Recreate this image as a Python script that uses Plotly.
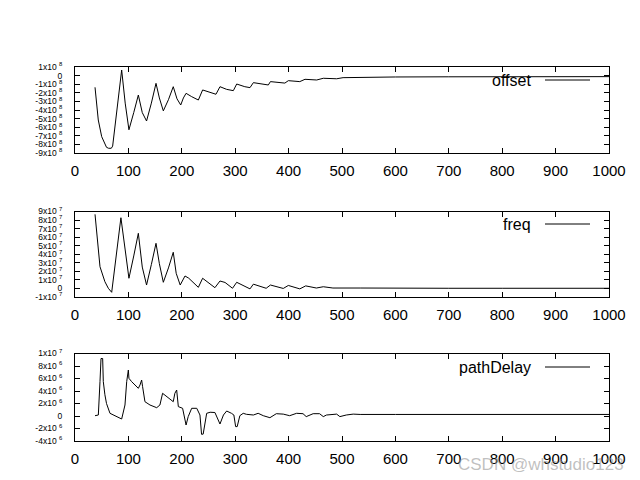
import plotly.graph_objects as go

# ---- data ----
offset_x = [37.5, 43.6, 50, 55, 59, 63, 68, 70.5, 78, 87.4, 94, 101, 110, 118.6, 126, 134, 143, 151.7, 158, 165.4, 175, 184, 191, 198, 203, 208, 218.5, 231, 239, 249.7, 264, 271.5, 284, 296.5, 302.8, 318, 327.7, 334, 352.6, 362, 366, 384, 393, 399.5, 421, 430.7, 452.6, 465, 490, 502, 534, 600, 700, 800, 900, 1000]
offset_y = [-1.36e8, -5.16e8, -7.1e8, -7.9e8, -8.34e8, -8.45e8, -8.45e8, -8.2e8, -4.0e8, 0.65e8, -3.2e8, -6.3e8, -4.3e8, -2.26e8, -4.3e8, -5.28e8, -3.2e8, -0.9e8, -2.6e8, -4.1e8, -2.8e8, -1.29e8, -2.7e8, -3.42e8, -2.6e8, -2.06e8, -2.45e8, -2.84e8, -1.67e8, -1.87e8, -2.17e8, -1.29e8, -1.6e8, -1.75e8, -0.98e8, -1.29e8, -1.4e8, -0.82e8, -1.0e8, -1.09e8, -0.7e8, -0.82e8, -0.87e8, -0.59e8, -0.7e8, -0.43e8, -0.51e8, -0.31e8, -0.37e8, -0.24e8, -0.2e8, -1.6e7, -1.4e7, -1.3e7, -1.2e7, -1.2e7]

freq_x = [37.5, 46.8, 56, 62.4, 68.7, 77, 86, 94, 101, 110, 118.6, 126, 134, 143, 151.7, 158, 165.4, 175, 184, 189.5, 197, 206, 213, 231, 239, 262, 271.5, 281, 295, 302.8, 327.7, 334, 358, 366, 390, 399.5, 421, 432, 452, 465, 483, 534, 600, 700, 800, 900, 1000]
freq_y = [8.67e7, 2.54e7, 0.79e7, 0.02e7, -0.45e7, 3.5e7, 8.27e7, 4.5e7, 1.19e7, 3.8e7, 6.45e7, 2.5e7, 0.4e7, 2.8e7, 5.28e7, 2.9e7, 0.72e7, 2.4e7, 4.23e7, 1.77e7, 0.4e7, 1.46e7, 1.2e7, 0.13e7, 1.19e7, 0.09e7, 0.87e7, 0.7e7, 0.02e7, 0.72e7, -0.05e7, 0.5e7, 0.02e7, 0.4e7, 0.0, 0.35e7, -0.05e7, 0.3e7, 0.05e7, 0.2e7, 0.05e7, 0.05e7, 0.02e7, 0.02e7, 0.02e7, 0.02e7, 0.02e7]

delay_x = [37.5, 43.7, 46.8, 48.7, 51.8, 53, 56, 59, 65.5, 75, 87.4, 93.6, 96.8, 99.9, 101, 106, 118.6, 121.7, 124.8, 126.6, 131, 140.4, 153, 159, 164, 184, 187, 190.4, 193.5, 201.5, 208, 212, 218.5, 228, 234, 237, 240, 246.6, 253, 262, 265, 271.5, 278, 284, 293, 297.5, 300.8, 303.7, 308.7, 315, 321, 334, 343, 352.6, 365, 377, 390, 402, 415, 427, 433, 446, 458, 465, 471, 490, 496, 508, 521, 534, 600, 700, 800, 900, 1000]
delay_y = [0.05e6, 0.16e6, 5.5e6, 9.2e6, 9.2e6, 5.5e6, 3.4e6, 2.0e6, 0.43e6, 0.05e6, -0.48e6, 1.76e6, 5.5e6, 7.36e6, 6.03e6, 5.5e6, 4.43e6, 4.96e6, 5.76e6, 4.69e6, 2.29e6, 1.76e6, 1.33e6, 1.76e6, 3.63e6, 2.29e6, 3.63e6, 4.16e6, 1.5e6, 1.23e6, -1.44e6, -0.1e6, 1.23e6, 1.23e6, 0.16e6, -2.93e6, -2.9e6, 0.43e6, 0.6e6, 0.56e6, -0.1e6, -1.28e6, 0.16e6, 0.8e6, 0.43e6, 0.16e6, -1.7e6, -1.7e6, 0.05e6, 0.43e6, 0.27e6, 0.16e6, 0.43e6, 0.05e6, -0.27e6, 0.37e6, 0.3e6, 0.05e6, 0.43e6, 0.37e6, -0.1e6, 0.37e6, 0.37e6, -0.1e6, 0.16e6, 0.3e6, -0.1e6, 0.16e6, 0.3e6, 0.25e6, 0.25e6, 0.25e6, 0.25e6, 0.25e6, 0.25e6]

x_ticks = [0, 100, 200, 300, 400, 500, 600, 700, 800, 900, 1000]
offset_ticks = [1e8, 0, -1e8, -2e8, -3e8, -4e8, -5e8, -6e8, -7e8, -8e8, -9e8]
offset_labels = ["1x10 <sup>8</sup>", "0", "-1x10 <sup>8</sup>", "-2x10 <sup>8</sup>", "-3x10 <sup>8</sup>", "-4x10 <sup>8</sup>", "-5x10 <sup>8</sup>", "-6x10 <sup>8</sup>", "-7x10 <sup>8</sup>", "-8x10 <sup>8</sup>", "-9x10 <sup>8</sup>"]
freq_ticks = [9e7, 8e7, 7e7, 6e7, 5e7, 4e7, 3e7, 2e7, 1e7, 0, -1e7]
freq_labels = ["9x10 <sup>7</sup>", "8x10 <sup>7</sup>", "7x10 <sup>7</sup>", "6x10 <sup>7</sup>", "5x10 <sup>7</sup>", "4x10 <sup>7</sup>", "3x10 <sup>7</sup>", "2x10 <sup>7</sup>", "1x10 <sup>7</sup>", "0", "-1x10 <sup>7</sup>"]
delay_ticks = [1e7, 8e6, 6e6, 4e6, 2e6, 0, -2e6, -4e6]
delay_labels = ["1x10 <sup>7</sup>", "8x10 <sup>6</sup>", "6x10 <sup>6</sup>", "4x10 <sup>6</sup>", "2x10 <sup>6</sup>", "0", "-2x10 <sup>6</sup>", "-4x10 <sup>6</sup>"]

names = ["offset", "freq", "pathDelay"]

H = 480.0
panels = [
    (offset_x, offset_y, [-9e8, 1e8], offset_ticks, offset_labels, 67, 153),
    (freq_x, freq_y, [-1e7, 9e7], freq_ticks, freq_labels, 211.5, 297),
    (delay_x, delay_y, [-4e6, 1e7], delay_ticks, delay_labels, 353.5, 441),
]

fig = go.Figure()
font = "Liberation Sans"
for i, (xs, ys, yr, yt, yl, top, bot) in enumerate(panels):
    n = "" if i == 0 else str(i + 1)
    fig.add_trace(go.Scatter(x=xs, y=ys, mode="lines", name=names[i],
                             line=dict(color="black", width=1),
                             xaxis="x" + n, yaxis="y" + n, showlegend=False))
    fig.update_layout(**{
        "xaxis" + n: dict(domain=[0, 1], range=[0, 1000], anchor="y" + n,
                          tickvals=x_ticks, ticks="inside", ticklen=5,
                          tickcolor="black", showline=True, linecolor="black",
                          linewidth=1, mirror="ticks", showgrid=False,
                          zeroline=False, ticklabelstandoff=4, automargin=False,
                          tickfont=dict(family=font, size=15, color="black")),
        "yaxis" + n: dict(domain=[1 - bot / H, 1 - top / H], range=yr,
                          anchor="x" + n, tickvals=yt, ticktext=yl,
                          ticks="inside", ticklen=5, tickcolor="black",
                          showline=True, linecolor="black", linewidth=1,
                          mirror="ticks", showgrid=False, zeroline=False,
                          ticklabelstandoff=10, automargin=False,
                          tickfont=dict(family=font, size=8.5, color="black")),
    })
    ly = (bot - {0: 80, 1: 224, 2: 367}[i]) / (bot - top)
    fig.add_annotation(text=names[i], xref="x" + n + " domain",
                       yref="y" + n + " domain", x=(533 - 75) / 534, y=ly,
                       xanchor="right", yanchor="middle", showarrow=False,
                       font=dict(family=font, size=16, color="black"))
    fig.add_shape(type="line", xref="x" + n + " domain", yref="y" + n + " domain",
                  x0=(545 - 75) / 534, x1=(590 - 75) / 534, y0=ly, y1=ly,
                  line=dict(color="black", width=1))

fig.add_annotation(text="CSDN @whstudio123", xref="paper", yref="paper",
                   x=1.0, y=1 - 464 / H, xanchor="right", yanchor="middle",
                   xshift=17, showarrow=False,
                   font=dict(family=font, size=17, color="rgba(150,150,150,0.6)"))

fig.update_layout(width=640, height=480, plot_bgcolor="white",
                  paper_bgcolor="white",
                  margin=dict(l=75, r=31, t=0, b=0, autoexpand=False))
fig.write_html("out.html")
